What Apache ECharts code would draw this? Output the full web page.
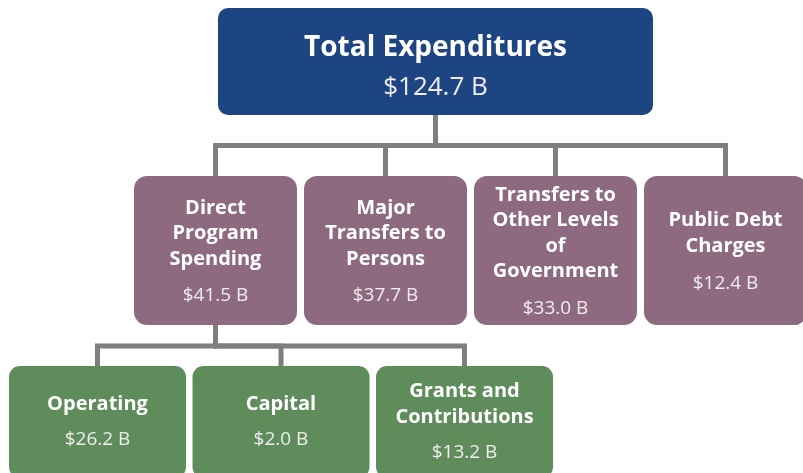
<!DOCTYPE html>
<html>
<head>
<meta charset="utf-8">
<script src="https://cdn.jsdelivr.net/npm/echarts@6/dist/echarts.min.js"></script>
<style>
  html, body { margin: 0; padding: 0; background: #fff; }
  #chart { width: 803px; height: 473px; }
</style>
</head>
<body>
<div id="chart"></div>
<script>
// data
const rootName = ['Total Expenditures']
const rootValue = 124.7
const categories = [
  ['Direct', 'Program', 'Spending'],
  ['Major', 'Transfers to', 'Persons'],
  ['Transfers to', 'Other Levels', 'of', 'Government'],
  ['Public Debt', 'Charges']
]
const categoryValues = [41.5, 37.7, 33.0, 12.4]
const subCategories = [['Operating'], ['Capital'], ['Grants and', 'Contributions']]
const subValues = [26.2, 2.0, 13.2]
const subParent = 0 // sub row belongs to "Direct Program Spending"

// layout of the three rows (pixels, 1:1 with axes)
const rows = [
  { top: 8, h: 107, left: 218, w: 435, step: 0, color: '#1d4581', r: 10, fs: 28, vfs: 26, lh: 30, gap: 40, shift: 6.5 },
  { top: 176, h: 149, left: 134, w: 163, step: 170, color: '#8e6a81', r: 13, fs: 20, vfs: 19, lh: 25.5, gap: 37, shift: 1.5 },
  { top: 366, h: 112, left: 9, w: 177, step: 183.5, color: '#5f8c5b', r: 11, fs: 20, vfs: 19, lh: 26, gap: 36, shift: 0 }
]
const busY = [145.5, 346]
const FONT = "'Open Sans', 'Noto Sans', sans-serif"

const levels = [
  { names: rootName.map(n => [n]), values: [rootValue] },
  { names: categories, values: categoryValues },
  { names: subCategories, values: subValues }
]

function cx(row, i) { return rows[row].left + i * rows[row].step + rows[row].w / 2 }
function cy(row) { return rows[row].top + rows[row].h / 2 }
function fmt(v) { return '$' + v.toFixed(1) + ' B' }

// nodes: [x, y, row, index]
const nodes = []
levels.forEach((lv, row) => {
  lv.values.forEach((v, i) => nodes.push([cx(row, i), cy(row), row, i]))
})

// edges: [parentX, childX, parentRow]
const edges = []
categories.forEach((c, i) => edges.push([cx(0, 0), cx(1, i), 0]))
subCategories.forEach((c, i) => edges.push([cx(1, subParent), cx(2, i), 1]))

const chart = echarts.init(document.getElementById('chart'))

chart.setOption({
  animation: false,
  grid: { left: 0, right: 0, top: 0, bottom: 0 },
  xAxis: { type: 'value', min: 0, max: 803, show: false },
  yAxis: { type: 'value', min: 0, max: 473, inverse: true, show: false },
  series: [
    {
      type: 'custom',
      coordinateSystem: 'cartesian2d',
      z: 1,
      data: edges,
      silent: true,
      renderItem: function (params, api) {
        const row = api.value(2)
        const px = api.value(0), chx = api.value(1)
        const pBottom = rows[row].top + rows[row].h
        const cTop = rows[row + 1].top
        const pts = [
          api.coord([px, pBottom]),
          api.coord([px, busY[row]]),
          api.coord([chx, busY[row]]),
          api.coord([chx, cTop])
        ]
        return {
          type: 'polyline',
          shape: { points: pts },
          style: { stroke: '#7f7f7f', lineWidth: 5, fill: null, lineJoin: 'miter', lineCap: 'butt' }
        }
      }
    },
    {
      type: 'custom',
      coordinateSystem: 'cartesian2d',
      z: 2,
      data: nodes,
      silent: true,
      renderItem: function (params, api) {
        const row = api.value(2), idx = api.value(3)
        const R = rows[row]
        const c = api.coord([api.value(0), api.value(1)])
        const size = api.size([R.w, R.h])
        const lines = levels[row].names[idx]
        const val = levels[row].values[idx]
        const span = (lines.length - 1) * R.lh + R.gap
        const first = c[1] - span / 2 + R.shift
        const children = [{
          type: 'rect',
          shape: { x: c[0] - size[0] / 2, y: c[1] - size[1] / 2, width: size[0], height: size[1], r: R.r },
          style: { fill: R.color }
        }]
        lines.forEach((t, k) => {
          children.push({
            type: 'text',
            style: {
              text: t, x: c[0], y: first + k * R.lh,
              align: 'center', verticalAlign: 'middle',
              fill: '#ffffff', fontFamily: FONT, fontWeight: 'bold', fontSize: R.fs
            }
          })
        })
        children.push({
          type: 'text',
          style: {
            text: fmt(val), x: c[0], y: first + (lines.length - 1) * R.lh + R.gap,
            align: 'center', verticalAlign: 'middle',
            fill: '#f1ecf0', fontFamily: FONT, fontWeight: 'normal', fontSize: R.vfs
          }
        })
        return { type: 'group', children: children }
      }
    }
  ]
})
</script>
</body>
</html>
